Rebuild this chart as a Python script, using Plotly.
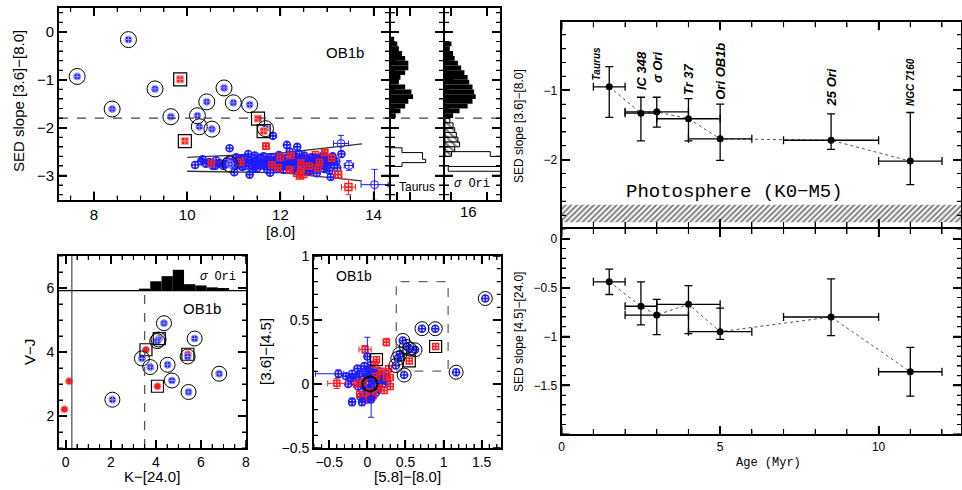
import math
import plotly.graph_objects as go

W, H = 962, 490
BLUE = '#1c1cff'
RED = '#ff1c1c'

# ---------------- Panel A: SED slope [3.6]-[8.0] vs [8.0] (OB1b) ----------------
a_blue_disk_x = [7.64, 8.74, 8.39, 9.31, 9.65, 10.22, 10.26, 10.42, 10.53, 10.79, 10.99, 11.34, 11.68, 10.92]
a_blue_disk_y = [-0.93, -0.16, -1.61, -1.19, -1.77, -1.75, -1.98, -1.46, -2.03, -1.17, -1.48, -1.52, -2.02, -2.76]
a_red_disk_x = [9.85, 9.95, 11.52, 11.64]
a_red_disk_y = [-0.99, -2.28, -1.81, -2.07]

a_blue_x = [10.17, 10.30, 10.33, 10.48, 10.62, 10.70, 10.78, 10.85, 10.91, 10.95,
            11.01, 11.05, 11.08, 11.12, 11.18, 11.22, 11.27, 11.31, 11.34, 11.38,
            11.42, 11.45, 11.50, 11.53, 11.58, 11.62, 11.68, 11.72, 11.78, 11.80,
            11.84, 11.88, 11.93, 11.97, 12.02, 12.06, 12.10, 12.14, 12.17, 12.20,
            12.24, 12.28, 12.32, 12.36, 12.39, 12.43, 12.47, 12.51, 12.55, 12.60,
            12.64, 12.68, 12.73, 12.78, 12.82, 12.87, 12.92, 12.97, 13.02, 13.05,
            13.08, 13.12, 13.16, 13.20, 13.31,
            11.84, 10.40, 10.60, 11.00, 11.25, 11.65, 12.00, 12.45, 12.85, 13.10,
            11.10, 11.20, 11.30, 11.40, 11.48, 11.56, 11.64, 11.70, 11.76, 11.86,
            11.92, 12.04, 12.12, 12.22, 12.26, 12.34, 12.41, 12.49, 12.57, 12.62,
            12.70, 12.76, 12.88, 12.94, 13.00, 13.14, 13.22, 10.55, 10.82, 11.15]
a_blue_y = [-2.78, -2.70, -2.66, -2.72, -2.68, -2.74, -2.80, -2.70, -2.43, -2.77,
            -2.93, -2.62, -2.76, -2.70, -2.82, -2.66, -2.74, -2.55, -2.98, -2.79,
            -2.69, -2.58, -2.85, -2.72, -2.64, -2.78, -2.70, -2.88, -2.94, -2.62,
            -2.76, -2.68, -2.82, -2.57, -2.74, -2.88, -2.64, -2.36, -2.78, -2.50,
            -2.70, -2.84, -2.60, -2.40, -2.74, -2.66, -2.92, -2.58, -2.78, -2.70,
            -2.84, -2.62, -2.76, -2.95, -2.68, -2.80, -2.58, -2.74, -2.66, -2.90,
            -3.03, -2.60, -2.78, -2.70, -2.55,
            -2.17, -2.75, -2.80, -2.72, -2.80, -2.74, -2.80, -2.72, -2.76, -2.70,
            -2.78, -2.72, -2.66, -2.86, -2.68, -2.76, -2.60, -2.80, -2.68, -2.72,
            -2.86, -2.66, -2.80, -2.74, -2.88, -2.70, -2.56, -2.78, -2.66, -2.90,
            -2.74, -2.64, -2.70, -2.86, -2.78, -2.68, -2.84, -2.80, -2.76, -2.64]
a_red_x = [10.52, 10.72, 10.90, 11.15, 11.40, 11.55, 11.69, 11.75, 11.90, 12.00,
           12.08, 12.15, 12.22, 12.30, 12.38, 12.45, 12.52, 12.58, 12.62, 12.70,
           12.75, 12.80, 12.85, 12.90, 12.95, 13.00, 13.05, 13.10,
           12.35, 12.50, 12.20, 12.65, 12.88, 11.95, 12.55,
           12.28, 12.44, 12.60, 12.72, 12.84, 12.98, 12.12, 11.82]
a_red_y = [-2.74, -2.76, -2.70, -2.72, -2.76, -2.80, -2.39, -2.66, -2.72, -2.62,
           -2.80, -2.70, -2.58, -2.76, -2.66, -2.86, -2.72, -2.62, -2.80, -2.70,
           -2.56, -2.84, -2.66, -2.76, -2.52, -2.86, -2.72, -2.64,
           -2.95, -2.98, -2.88, -2.92, -2.60, -2.84, -2.68,
           -2.68, -2.74, -2.70, -2.62, -2.72, -2.68, -2.74, -2.78]
a_blue_err_x = [13.30, 13.47, 14.02]
a_blue_err_y = [-2.33, -2.79, -3.19]
a_blue_err_dx = [0.16, 0.10, 0.29]
a_blue_err_dy = [0.17, 0.10, 0.32]
a_red_err_x = [13.24, 13.46, 12.42]
a_red_err_y = [-2.98, -3.24, -3.00]
a_red_err_dx = [0.06, 0.15, 0.06]
a_red_err_dy = [0.08, 0.16, 0.05]
a_upper_x = [10.0, 12.0, 13.75]
a_upper_y = [-2.62, -2.53, -2.34]
a_lower_x = [10.0, 12.0, 13.75]
a_lower_y = [-2.91, -2.94, -3.11]
disk_threshold = -1.8

# ---------------- Panels B, C: histograms of SED slope ----------------
hist_centers = [-0.15, -0.25, -0.35, -0.45, -0.55, -0.65, -0.75, -0.85, -0.95,
                -1.05, -1.15, -1.25, -1.35, -1.45, -1.55, -1.65, -1.75]
taurus_disk_n = [2, 4, 5, 7, 9, 11, 11, 9, 6, 5, 9, 13, 14, 11, 9, 6, 3]
sori_disk_n = [0, 4, 3, 5, 6, 8, 10, 12, 14, 15, 17, 18, 19, 17, 14, 9, 5]
taurus_phot_edges = [-2.42, -2.52, -2.66, -2.73, -2.81]
taurus_phot_n = [7, 20, 22, 7]
sori_weak_centers = [-1.85, -1.95, -2.05, -2.15, -2.25, -2.35, -2.45, -2.55]
sori_weak_n = [3, 5, 6, 7, 8, 9, 6, 4]
sori_phot_edges = [-2.50, -2.60, -2.81, -2.91, -3.05]
sori_phot_n = [28, 60, 2, 60]

# ---------------- Panel D: V-J vs K-[24.0] ----------------
d_blue_x = [4.36, 4.12, 4.06, 5.72, 3.38, 3.75, 4.52, 5.41, 4.71, 5.45, 6.81, 2.07]
d_blue_y = [4.90, 4.39, 4.34, 4.42, 3.80, 3.53, 3.60, 3.86, 3.11, 2.75, 3.32, 2.51]
d_red_box_x = [4.15, 3.56, 5.42, 4.07]
d_red_box_y = [4.42, 4.07, 3.93, 2.93]
d_red_x = [0.15, -0.06]
d_red_y = [3.09, 2.21]
d_hist_centers = [3.5, 4.0, 4.5, 5.0, 5.5, 6.0, 6.5, 7.0]
d_hist_h = [0.06, 0.29, 0.45, 0.65, 0.20, 0.16, 0.10, 0.08]
d_hist_base = 5.92
d_phot_limit = 0.27
d_disk_limit = 3.5

# ---------------- Panel E: [3.6]-[4.5] vs [5.8]-[8.0] ----------------
e_blue_x = [-0.15, -0.12, -0.10, -0.08, -0.06, -0.05, -0.03, -0.02, 0.00, 0.01,
            0.02, 0.03, 0.04, 0.05, 0.06, 0.07, 0.08, 0.09, 0.10, 0.11,
            0.12, 0.13, 0.14, 0.16, 0.18, 0.20, 0.22, -0.18, -0.20, -0.22,
            -0.25, -0.13, -0.09, 0.00, 0.05, -0.04, 0.15, 0.24, 0.26, -0.28]
e_blue_y = [0.05, -0.02, 0.08, 0.00, -0.06, 0.04, 0.10, -0.03, 0.06, -0.08,
            0.02, 0.12, -0.04, 0.07, -0.10, 0.03, 0.09, -0.02, 0.05, -0.07,
            0.01, 0.08, -0.04, 0.03, 0.06, 0.00, 0.04, 0.02, 0.08, 0.05,
            0.00, 0.12, -0.10, -0.12, 0.15, 0.14, 0.10, 0.08, 0.02, 0.06]
e_red_x = [-0.05, 0.02, 0.08, 0.12, 0.15, 0.18, 0.22, 0.25, 0.28, -0.10, -0.14, -0.02, 0.10, 0.30]
e_red_y = [0.02, -0.06, -0.09, 0.06, -0.03, 0.10, -0.05, 0.05, 0.12, -0.08, 0.00, -0.12, 0.15, -0.02]
e_blue_err_x = [-0.38, -0.20, -0.07, 0.00, 0.05]
e_blue_err_y = [0.08, -0.14, -0.14, 0.215, -0.12]
e_blue_err_dxp = [0.07, 0.04, 0.04, 0.03, 0.03]
e_blue_err_dxm = [0.30, 0.04, 0.04, 0.03, 0.03]
e_blue_err_dy = [0.03, 0.03, 0.03, 0.15, 0.14]
e_red_err_x = [-0.40, 0.25, -0.03, 0.30]
e_red_err_y = [0.005, 0.327, 0.27, 0.05]
e_red_err_dx = [0.12, 0.04, 0.08, 0.04]
e_red_err_dy = [0.04, 0.03, 0.03, 0.05]
e_blue_disk_x = [1.548, 0.717, 0.891, 1.165, 0.465, 0.513, 0.557, 0.626, 0.426, 0.40, 0.374, 0.483]
e_blue_disk_y = [0.668, 0.432, 0.432, 0.092, 0.34, 0.293, 0.272, 0.267, 0.235, 0.20, 0.144, 0.07]
e_red_box_x = [0.896, 0.55, 0.12]
e_red_box_y = [0.293, 0.18, 0.19]
e_phot_x = [0.035]
e_phot_y = [0.0]
e_box_x = [0.38, 1.06]
e_box_y = [0.10, 0.80]

# ---------------- Panels F, G: SED slope vs age ----------------
clusters = ['Taurus', 'IC 348', 'σ Ori', 'Tr 37', 'Ori OB1b', '25 Ori', 'NGC 7160']
age = [1.5, 2.5, 3.0, 4.0, 5.0, 8.5, 11.0]
age_err_minus = [0.5, 0.5, 1.0, 1.0, 1.0, 1.5, 1.0]
age_err_plus = [0.5, 0.5, 1.0, 1.0, 1.0, 1.5, 1.0]
slope_36_80 = [-0.95, -1.33, -1.31, -1.41, -1.70, -1.72, -2.02]
slope_36_80_up = [0.29, 0.23, 0.21, 0.29, 0.50, 0.38, 0.70]
slope_36_80_dn = [0.44, 0.40, 0.22, 0.32, 0.31, 0.13, 0.34]
slope_45_24 = [-0.44, -0.69, -0.78, -0.67, -0.95, -0.80, -1.36]
slope_45_24_up = [0.13, 0.25, 0.16, 0.19, 0.24, 0.39, 0.25]
slope_45_24_dn = [0.13, 0.19, 0.20, 0.30, 0.08, 0.19, 0.25]
photosphere_range = [-2.65, -2.90]

# =====================================================================
def xd(l, r):
    return [l / W, r / W]


def yd(t, b):
    return [1 - b / H, 1 - t / H]


def axis(size=14, lw=2, **kw):
    base = dict(showline=True, linecolor='black', linewidth=lw, mirror='ticks',
                ticks='inside', tickcolor='black', ticklen=8, tickwidth=1.6,
                showgrid=False, zeroline=False, automargin=False, layer='above traces',
                tickfont=dict(family='Liberation Sans, Arial', size=size, color='black'))
    base.update(kw)
    return base


def minor(d, ln=4):
    return dict(dtick=d, ticks='inside', ticklen=ln, tickcolor='black', tickwidth=1.3, showgrid=False)


fig = go.Figure()

blue_fill = dict(symbol='circle-cross', color=BLUE, size=7, line=dict(color='#9a9aff', width=1))
red_fill = dict(symbol='square-cross', color=RED, size=7, line=dict(color='#ff9a9a', width=1))
red_dot = dict(symbol='circle', color=RED, size=7, line=dict(color='#ff8080', width=1))
blue_open = dict(symbol='circle-cross-open', color=BLUE, size=7, line=dict(color=BLUE, width=1.6))
red_open = dict(symbol='square-cross-open', color=RED, size=6, line=dict(color=RED, width=1.5))
ring = dict(symbol='circle-open', color='black', size=16, line=dict(color='black', width=1))
box = dict(symbol='square-open', color='black', size=13, line=dict(color='black', width=1.2))


def sc(x, y, xa, ya, marker, **kw):
    fig.add_trace(go.Scatter(x=x, y=y, xaxis=xa, yaxis=ya, mode='markers',
                             marker=marker, hoverinfo='skip', **kw))


# ---- Panel A ----
fig.add_trace(go.Scatter(x=a_upper_x, y=a_upper_y, xaxis='x', yaxis='y', mode='lines',
                         line=dict(color='#333333', width=1.3), hoverinfo='skip'))
fig.add_trace(go.Scatter(x=a_lower_x, y=a_lower_y, xaxis='x', yaxis='y', mode='lines',
                         line=dict(color='#333333', width=1.3), hoverinfo='skip'))
sc(a_red_x, a_red_y, 'x', 'y', red_open)
sc(a_blue_x, a_blue_y, 'x', 'y', blue_open)
sc(a_red_x[::3], a_red_y[::3], 'x', 'y', red_open)
sc(a_red_err_x, a_red_err_y, 'x', 'y', dict(red_open, size=7),
   error_x=dict(array=a_red_err_dx, color=RED, thickness=1, width=3),
   error_y=dict(array=a_red_err_dy, color=RED, thickness=1, width=3))
sc(a_blue_err_x, a_blue_err_y, 'x', 'y', dict(symbol='circle-open', color=BLUE, size=8, line=dict(color=BLUE, width=1)),
   error_x=dict(array=a_blue_err_dx, color=BLUE, thickness=1, width=3),
   error_y=dict(array=a_blue_err_dy, color=BLUE, thickness=1, width=3))
sc(a_blue_disk_x, a_blue_disk_y, 'x', 'y', blue_fill)
sc(a_red_disk_x, a_red_disk_y, 'x', 'y', red_fill)
sc(a_blue_disk_x, a_blue_disk_y, 'x', 'y', ring)
sc(a_red_disk_x, a_red_disk_y, 'x', 'y', box)


# ---- Panels B, C: histograms ----
def hbar(centers, counts, xa, ya, **mk):
    fig.add_trace(go.Bar(y=centers, x=counts, orientation='h', xaxis=xa, yaxis=ya, width=0.1,
                         marker=mk, hoverinfo='skip'))


def step_outline(edges, counts, xa, ya, close=True):
    xs, ys = [0], [edges[0]]
    for i, n in enumerate(counts):
        xs += [n, n]
        ys += [edges[i], edges[i + 1]]
    if close:
        xs.append(0)
        ys.append(edges[-1])
    fig.add_trace(go.Scatter(x=xs, y=ys, xaxis=xa, yaxis=ya, mode='lines',
                             line=dict(color='black', width=1), hoverinfo='skip', cliponaxis=True))


hbar(hist_centers, taurus_disk_n, 'x2', 'y2', color='black', line=dict(width=0))
step_outline(taurus_phot_edges, taurus_phot_n, 'x2', 'y2', close=True)
hbar(hist_centers, sori_disk_n, 'x3', 'y3', color='black', line=dict(width=0))
hbar(sori_weak_centers, sori_weak_n, 'x3', 'y3', color='white', line=dict(color='black', width=1),
     pattern=dict(shape='\\', fgcolor='black', bgcolor='white', size=5, solidity=0.45))
step_outline(sori_phot_edges, sori_phot_n, 'x3', 'y3', close=False)

# ---- Panel D ----
fig.add_trace(go.Bar(x=d_hist_centers, y=d_hist_h, base=d_hist_base, width=0.5, xaxis='x4', yaxis='y4',
                     marker=dict(color='black', line=dict(width=0)), hoverinfo='skip'))
sc(d_red_x, d_red_y, 'x4', 'y4', red_dot)
sc(d_red_box_x, d_red_box_y, 'x4', 'y4', red_dot)
sc(d_blue_x, d_blue_y, 'x4', 'y4', blue_fill)
sc(d_blue_x, d_blue_y, 'x4', 'y4', dict(ring, size=15))
sc(d_red_box_x, d_red_box_y, 'x4', 'y4', dict(box, size=12))

# ---- Panel E ----
sc(e_blue_x, e_blue_y, 'x5', 'y5', blue_open)
sc(e_red_x, e_red_y, 'x5', 'y5', red_open)
sc(e_red_err_x, e_red_err_y, 'x5', 'y5', red_open,
   error_x=dict(array=e_red_err_dx, color=RED, thickness=1, width=3),
   error_y=dict(array=e_red_err_dy, color=RED, thickness=1, width=3))
sc(e_blue_err_x, e_blue_err_y, 'x5', 'y5', blue_open,
   error_x=dict(type='data', array=e_blue_err_dxp, arrayminus=e_blue_err_dxm, color=BLUE, thickness=1, width=3),
   error_y=dict(array=e_blue_err_dy, color=BLUE, thickness=1, width=3))
sc(e_blue_disk_x, e_blue_disk_y, 'x5', 'y5', blue_open)
sc(e_red_box_x, e_red_box_y, 'x5', 'y5', red_open)
sc(e_blue_disk_x, e_blue_disk_y, 'x5', 'y5', dict(ring, size=14))
sc(e_red_box_x, e_red_box_y, 'x5', 'y5', dict(box, size=12))
sc(e_phot_x, e_phot_y, 'x5', 'y5', dict(symbol='circle-open', color='black', size=15, line=dict(color='black', width=2)))

# ---- Panels F, G ----
band_x = [0, 12.6, 12.6, 0, 0]
band_y = [photosphere_range[0], photosphere_range[0], photosphere_range[1], photosphere_range[1], photosphere_range[0]]
fig.add_trace(go.Scatter(x=band_x, y=band_y, xaxis='x6', yaxis='y6', mode='lines', fill='toself',
                         fillcolor='white', line=dict(width=0, color='black'),
                         fillpattern=dict(shape='/', fgcolor='black', bgcolor='white', size=4, solidity=0.5),
                         hoverinfo='skip'))
for xa, ya, yv, up, dn in [('x6', 'y6', slope_36_80, slope_36_80_up, slope_36_80_dn),
                           ('x7', 'y7', slope_45_24, slope_45_24_up, slope_45_24_dn)]:
    fig.add_trace(go.Scatter(x=age, y=yv, xaxis=xa, yaxis=ya, mode='lines',
                             line=dict(color='#555555', width=1, dash='dot'), hoverinfo='skip'))
    fig.add_trace(go.Scatter(x=age, y=yv, xaxis=xa, yaxis=ya, mode='markers',
                             marker=dict(color='black', size=7),
                             error_x=dict(type='data', array=age_err_plus, arrayminus=age_err_minus,
                                          color='black', thickness=1.3, width=4),
                             error_y=dict(type='data', array=up, arrayminus=dn,
                                          color='black', thickness=1.3, width=4),
                             hoverinfo='skip'))

# ---------------- layout ----------------
A_y = yd(8, 199.5)
panels = {
    # name: (x-axis id, y-axis id, x domain, y domain, x range, y range, x major, x minor, y major, y minor)
    'A': ('x', 'y', xd(59, 389), A_y, [7.25, 14.33], [-3.5, 0.5], 2, 0.5, 1, 0.2),
    'B': ('x2', 'y2', xd(391, 443), A_y, [0, 33], [-3.5, 0.5], None, None, 1, 0.2),
    'C': ('x3', 'y3', xd(445, 500), A_y, [0, 34], [-3.5, 0.5], None, None, 1, 0.2),
    'D': ('x4', 'y4', xd(59, 246), yd(256, 448), [-0.3, 8], [1, 7], 2, 0.5, 2, 0.5),
    'E': ('x5', 'y5', xd(314, 500.7), yd(256, 448), [-0.7, 1.75], [-0.5, 1.0], 0.5, 0.1, 0.5, 0.1),
    'F': ('x6', 'y6', xd(561.7, 961), yd(22.3, 227), [0, 12.6], [-2.97, -0.02], 5, 1, 1, 0.2),
    'G': ('x7', 'y7', xd(561.7, 961), yd(229, 434.3), [0, 12.6], [-2.0, 0.1], 5, 1, 0.5, 0.1),
}


def tick_values(lo, hi, step):
    k0 = math.ceil(lo / step - 1e-6)
    k1 = math.floor(hi / step + 1e-6)
    return [round(k * step, 6) for k in range(k0, k1 + 1)]


def frame_tick_shapes(xa, ya, dx, dy, xr, yr, xmaj, xmin, ymaj, ymin):
    """Inward tick marks on all four sides of a subplot frame, as path shapes on its own axes."""
    wpx = (dx[1] - dx[0]) * W
    hpx = (dy[1] - dy[0]) * H
    ux = (xr[1] - xr[0]) / wpx
    uy = (yr[1] - yr[0]) / hpx
    out = []
    for xstep, ystep, L, width in ((xmin, ymin, 4, 1.1), (xmaj, ymaj, 8, 1.5)):
        segs = []
        Lx = 5 if (xa in ('x6', 'x7') and L == 4) else L
        if xstep:
            for v in tick_values(xr[0], xr[1], xstep):
                segs.append(f'M{v},{yr[0]} L{v},{yr[0] + Lx * uy:.5f}')
                segs.append(f'M{v},{yr[1]} L{v},{yr[1] - Lx * uy:.5f}')
        if ystep:
            for v in tick_values(yr[0], yr[1], ystep):
                segs.append(f'M{xr[0]},{v} L{xr[0] + L * ux:.5f},{v}')
                segs.append(f'M{xr[1]},{v} L{xr[1] - L * ux:.5f},{v}')
        if segs:
            out.append(dict(type='path', xref=xa, yref=ya, path=' '.join(segs), layer='above',
                            line=dict(color='black', width=width)))
    return out


pA, pB, pC, pD, pE, pF, pG = (panels[k] for k in 'ABCDEFG')
layout = dict(
    width=W, height=H, margin=dict(l=0, r=0, t=0, b=0, autoexpand=False),
    paper_bgcolor='white', plot_bgcolor='white', showlegend=False, barmode='overlay',
    xaxis=axis(15, domain=pA[2], anchor='y', range=pA[4], dtick=2, tick0=0, minor=minor(0.5)),
    yaxis=axis(15, domain=pA[3], anchor='x', range=pA[5], dtick=1, tick0=0, minor=minor(0.2)),
    xaxis2=axis(12, domain=pB[2], anchor='y2', range=pB[4], tickvals=[4, 12], showticklabels=False),
    yaxis2=axis(12, domain=pB[3], anchor='x2', range=pB[5], dtick=1, tick0=0, minor=minor(0.2),
                showticklabels=False),
    xaxis3=axis(12, domain=pC[2], anchor='y3', range=pC[4], tickvals=[4, 26], showticklabels=False),
    yaxis3=axis(12, domain=pC[3], anchor='x3', range=pC[5], dtick=1, tick0=0, minor=minor(0.2),
                showticklabels=False),
    xaxis4=axis(14, domain=pD[2], anchor='y4', range=pD[4], dtick=2, tick0=0, minor=minor(0.5)),
    yaxis4=axis(14, domain=pD[3], anchor='x4', range=pD[5], dtick=2, tick0=0, minor=minor(0.5)),
    xaxis5=axis(14, domain=pE[2], anchor='y5', range=pE[4], dtick=0.5, tick0=0, minor=minor(0.1)),
    yaxis5=axis(14, domain=pE[3], anchor='x5', range=pE[5], dtick=0.5, tick0=0, minor=minor(0.1)),
    xaxis6=axis(12, domain=pF[2], anchor='y6', range=pF[4], dtick=5, tick0=0, minor=minor(1, 5),
                showticklabels=False),
    yaxis6=axis(12, domain=pF[3], anchor='x6', range=pF[5], tickvals=[-1, -2], minor=minor(0.2)),
    xaxis7=axis(12, domain=pG[2], anchor='y7', range=pG[4], dtick=5, tick0=0, minor=minor(1, 5)),
    yaxis7=axis(12, domain=pG[3], anchor='x7', range=pG[5], tickvals=[0, -0.5, -1, -1.5],
                ticktext=['0', '−0.5', '−1', '−1.5'], minor=minor(0.1)),
)
fig.update_layout(**layout)

shapes = [
    dict(type='line', xref='paper', yref='y', x0=59 / W, x1=500 / W, y0=disk_threshold, y1=disk_threshold,
         line=dict(color='#444444', width=1.3, dash='dash')),
    dict(type='line', xref='x4', yref='y4', x0=-0.3, x1=8, y0=d_hist_base, y1=d_hist_base,
         line=dict(color='black', width=1.3)),
    dict(type='line', xref='x4', yref='y4', x0=d_phot_limit, x1=d_phot_limit, y0=1, y1=7,
         line=dict(color='#555555', width=1.3)),
    dict(type='line', xref='x4', yref='y4', x0=d_disk_limit, x1=d_disk_limit, y0=1, y1=d_hist_base,
         line=dict(color='#555555', width=1.3, dash='dash')),
    dict(type='rect', xref='x5', yref='y5', x0=e_box_x[0], x1=e_box_x[1], y0=e_box_y[0], y1=e_box_y[1],
         line=dict(color='#666666', width=1.3, dash='dash')),
]
for p in panels.values():
    shapes += frame_tick_shapes(*p)
fig.update_layout(shapes=shapes)

helv = 'Liberation Sans, Arial'
mono = 'Liberation Mono, Courier New'


def ptext(px, py, text, size, family=helv, angle=0):
    return dict(x=px / W, y=1 - py / H, xref='paper', yref='paper', text=text, showarrow=False,
                textangle=angle, xanchor='center', yanchor='middle',
                font=dict(family=family, size=size, color='black'))


ann = [
    # axis titles
    ptext(18, 101, 'SED slope [3.6]−[8.0]', 15, angle=-90),
    ptext(280, 231, '[8.0]', 15),
    ptext(29, 352, 'V−J', 15, angle=-90),
    ptext(152, 476, 'K−[24.0]', 15),
    ptext(265, 352, '[3.6]−[4.5]', 15, angle=-90),
    ptext(407, 476, '[5.8]−[8.0]', 15),
    ptext(519, 126, 'SED slope [3.6]−[8.0]', 12, angle=-90),
    ptext(519, 332, 'SED slope [4.5]−[24.0]', 12, angle=-90),
    ptext(768, 463, 'Age (Myr)', 12, family=mono),
    # panel labels
    dict(x=13.39, y=-0.43, xref='x', yref='y', text='OB1b', showarrow=False,
         font=dict(family=helv, size=15, color='black')),
    ptext(417, 187, 'Taurus', 12),
    ptext(472, 184, '<i>σ</i> Ori', 12, family=mono),
    ptext(468, 211, '16', 15),
    dict(x=6.04, y=5.37, xref='x4', yref='y4', text='OB1b', showarrow=False,
         font=dict(family=helv, size=15, color='black')),
    dict(x=6.75, y=6.33, xref='x4', yref='y4', text='<i>σ</i> Ori', showarrow=False,
         font=dict(family=mono, size=12, color='black')),
    dict(x=-0.17, y=0.84, xref='x5', yref='y5', text='OB1b', showarrow=False,
         font=dict(family=helv, size=14, color='black')),
    dict(x=5.45, y=-2.47, xref='x6', yref='y6', text='Photosphere (K0−M5)', showarrow=False,
         font=dict(family=mono, size=19, color='black')),
]
label_size = [10, 13, 13, 13, 13, 13, 10]
label_gap = [0.06, 0.08, 0.18, 0.03, 0.03, 0.08, 0.07]
for i, name in enumerate(clusters):
    top = slope_36_80[i] + slope_36_80_up[i]
    if i == 0:
        ya, xs = slope_36_80[i] + label_gap[i], -13
    else:
        ya, xs = top + label_gap[i], 0
    ann.append(dict(x=age[i], y=ya, xref='x6', yref='y6', text=name, showarrow=False, textangle=-90,
                    xanchor='center', yanchor='bottom', xshift=xs,
                    font=dict(family=helv, size=label_size[i], color='black', style='italic', weight='bold')))
fig.update_layout(annotations=ann)

fig.write_html('out.html', config={'displayModeBar': False},
               post_script="document.body.style.margin='0px';document.body.style.overflow='hidden';")
